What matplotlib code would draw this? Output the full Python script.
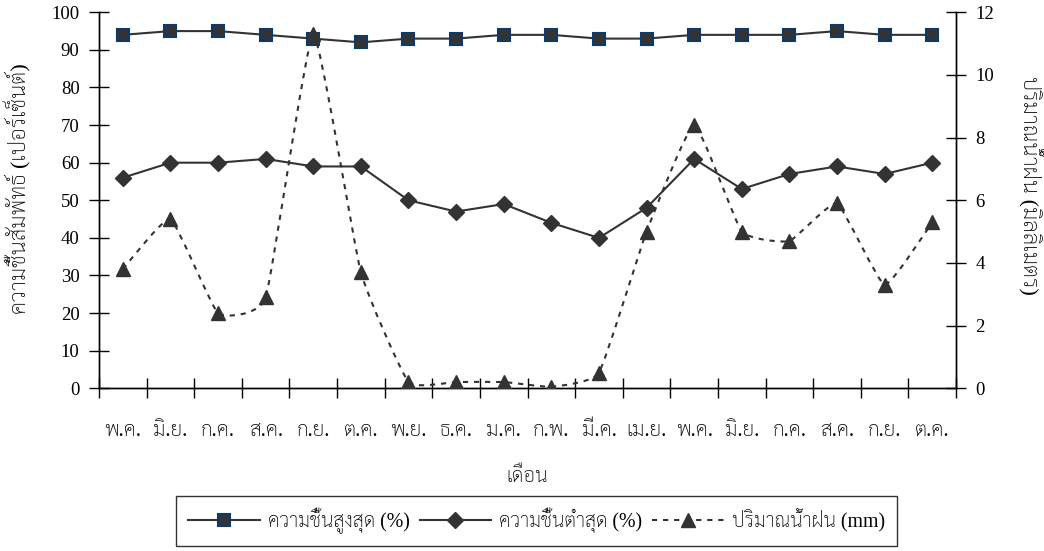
import matplotlib
matplotlib.use("Agg")
import matplotlib.pyplot as plt
import numpy as np
from matplotlib.path import Path
from matplotlib.patches import PathPatch
from matplotlib.lines import Line2D

months = ['พ.ค.', 'มิ.ย.', 'ก.ค.', 'ส.ค.', 'ก.ย.', 'ต.ค.', 'พ.ย.', 'ธ.ค.', 'ม.ค.',
          'ก.พ.', 'มี.ค.', 'เม.ย.', 'พ.ค.', 'มิ.ย.', 'ก.ค.', 'ส.ค.', 'ก.ย.', 'ต.ค.']
hum_max = [94, 95, 95, 94, 93, 92, 93, 93, 94, 94, 93, 93, 94, 94, 94, 95, 94, 94]
hum_min = [56, 60, 60, 61, 59, 59, 50, 47, 49, 44, 40, 48, 61, 53, 57, 59, 57, 60]
rain = [3.8, 5.4, 2.4, 2.9, 11.3, 3.7, 0.2, 0.2, 0.2, 0.05, 0.5, 5.0, 8.4, 5.0, 4.7, 5.9, 3.3, 5.3]

FONT = ['Liberation Serif', 'Sarabun', 'Taviraj', 'Noto Serif Thai', 'DejaVu Sans']
plt.rcParams['font.family'] = FONT
INK = '#333333'
THAI_W = 'light'


def smooth_path(x, y, tension=0.4):
    # gently smoothed line: bezier segments through every point,
    # tangents from the neighbouring points, damped by `tension`
    x = np.asarray(x, float)
    y = np.asarray(y, float)
    px = np.concatenate([[x[0]], x, [x[-1]]])
    py = np.concatenate([[y[0]], y, [y[-1]]])
    k = tension / 6
    verts = [(x[0], y[0])]
    codes = [Path.MOVETO]
    for i in range(1, len(x)):
        c1 = (px[i] + (px[i + 1] - px[i - 1]) * k, py[i] + (py[i + 1] - py[i - 1]) * k)
        c2 = (px[i + 1] - (px[i + 2] - px[i]) * k, py[i + 1] - (py[i + 2] - py[i]) * k)
        verts += [c1, c2, (px[i + 1], py[i + 1])]
        codes += [Path.CURVE4] * 3
    return Path(verts, codes)


fig = plt.figure(figsize=(10.44, 5.51), dpi=100)
ax = fig.add_axes([0.0948, 0.2953, 0.821, 0.6824])
ax2 = ax.twinx()

x = np.arange(len(months)) + 0.5

ax.plot(x, hum_max, color=INK, lw=1.5, marker='s', ms=9, mfc=INK, mec='#0b3a6e', mew=1.5, zorder=4)
ax.plot(x, hum_min, color=INK, lw=1.5, marker='D', ms=8.5, mfc=INK, mec=INK, zorder=4)

rain_ls = (0, (2.5, 2.8))
ax2.add_patch(PathPatch(smooth_path(x, rain), fill=False, edgecolor=INK, lw=1.5, linestyle=rain_ls))
ax2.plot(x, rain, ls='none', marker='^', ms=10, color=INK, zorder=3)

ax.set_xlim(0, len(months))
ax.set_ylim(0, 100)
ax2.set_ylim(0, 12)
ax.set_yticks(np.arange(0, 101, 10))
ax2.set_yticks(np.arange(0, 13, 2))
ax.set_xticks(np.arange(0, len(months) + 1))
ax.set_xticklabels([])
ax.set_xticks(x, minor=True)
ax.set_xticklabels(months, minor=True, fontweight=THAI_W)
ax.tick_params(axis='x', which='minor', length=0, pad=24, labelsize=15)
ax.tick_params(axis='x', which='major', direction='inout', length=14, width=1)
ax.tick_params(axis='y', direction='inout', length=14, width=1, labelsize=13.5, pad=7)
ax2.tick_params(axis='y', direction='inout', length=14, width=1, labelsize=13.5, pad=7)

for a in (ax, ax2):
    a.spines['top'].set_visible(False)
    for s in ('left', 'right', 'bottom'):
        a.spines[s].set_color('black')
        a.spines[s].set_linewidth(1)

ax.set_xlabel('เดือน', fontsize=14.5, labelpad=19, fontweight=THAI_W)
fig.text(18 / 1044, 1 - 189 / 551, 'ความชื้นสัมพัทธ์ (เปอร์เซ็นต์)', fontsize=16,
         rotation=90, ha='center', va='center', fontweight=THAI_W)
fig.text(1030 / 1044, 1 - 185 / 551, 'ปริมาณน้ำฝน (มิลลิเมตร)', fontsize=16,
         rotation=-90, ha='center', va='center', fontweight=THAI_W)

handles = [
    Line2D([], [], color=INK, lw=1.5, marker='s', ms=9, mfc=INK, mec='#0b3a6e', mew=1.5),
    Line2D([], [], color=INK, lw=1.5, marker='D', ms=8.5, mfc=INK, mec=INK),
    Line2D([], [], color=INK, lw=1.5, ls=rain_ls, marker='^', ms=10, mfc=INK, mec=INK),
]
labels = ['ความชื้นสูงสุด (%)', 'ความชื้นต่ำสุด (%)', 'ปริมาณน้ำฝน (mm)']
leg = fig.legend(handles, labels, loc='center', bbox_to_anchor=(0.5139, 0.0544), ncol=3,
                 prop={'size': 14.3, 'weight': THAI_W},
                 handlelength=3.6, handletextpad=0.4, columnspacing=0.5,
                 frameon=True, fancybox=False, borderpad=0.6, borderaxespad=0)
leg.get_frame().set_edgecolor('black')
leg.get_frame().set_linewidth(1)

fig.savefig('out.png', dpi=100)
